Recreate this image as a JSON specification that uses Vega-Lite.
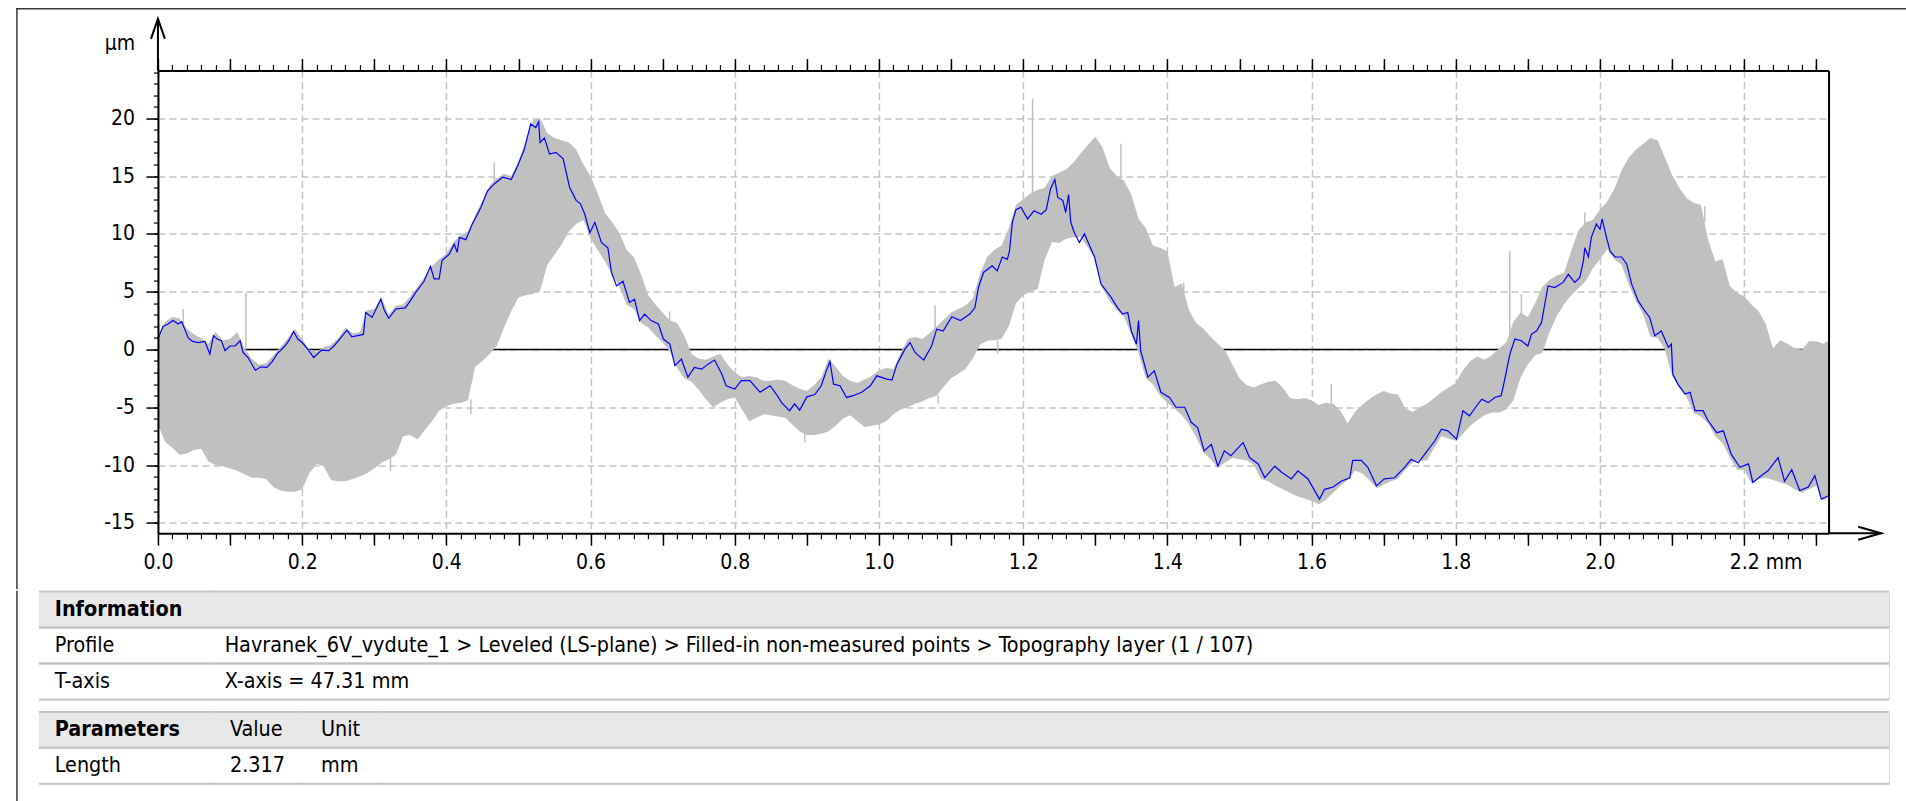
{
  "$schema": "https://vega.github.io/schema/vega-lite/v6.json",
  "background": "white",
  "padding": {"left": 14.95, "top": 7.55, "right": 0, "bottom": 0},
  "config": {
    "font": "'DejaVu Sans Condensed', 'Liberation Sans', sans-serif",
    "axis": {"labelColor": "#000", "tickColor": "#000", "domainColor": "#000", "labelFontSize": 21, "titleFontSize": 21, "titleColor": "#000", "titleFontWeight": "normal"},
    "text": {"fontSize": 21.4, "color": "#000"},
    "view": {"stroke": null}
  },
  "datasets": {
    "band": [
      {"x":0,"hi":1.2,"lo":-6.5},{"x":0.01,"hi":2.4,"lo":-8.0},{"x":0.02,"hi":2.8,"lo":-8.5},{"x":0.03,"hi":2.7,"lo":-9.1},{"x":0.04,"hi":1.8,"lo":-9.0},{"x":0.05,"hi":1.3,"lo":-8.7},{"x":0.06,"hi":1.0,"lo":-8.6},{"x":0.07,"hi":0.5,"lo":-9.7},{"x":0.08,"hi":1.5,"lo":-10.0},{"x":0.09,"hi":0.8,"lo":-10.1},
      {"x":0.1,"hi":0.9,"lo":-10.3},{"x":0.11,"hi":1.5,"lo":-10.5},{"x":0.12,"hi":0.1,"lo":-10.8},{"x":0.13,"hi":-0.8,"lo":-11.1},{"x":0.14,"hi":-1.3,"lo":-11.1},{"x":0.15,"hi":-1.2,"lo":-11.2},{"x":0.16,"hi":-0.5,"lo":-11.9},{"x":0.17,"hi":0.2,"lo":-12.2},{"x":0.18,"hi":1.0,"lo":-12.3},{"x":0.19,"hi":1.8,"lo":-12.3},
      {"x":0.2,"hi":0.9,"lo":-12.1},{"x":0.21,"hi":0.0,"lo":-10.7},{"x":0.22,"hi":-0.2,"lo":-9.9},{"x":0.23,"hi":0.2,"lo":-10.1},{"x":0.24,"hi":0.4,"lo":-11.3},{"x":0.25,"hi":1.0,"lo":-11.4},{"x":0.26,"hi":1.9,"lo":-11.4},{"x":0.27,"hi":1.4,"lo":-11.2},{"x":0.28,"hi":1.5,"lo":-11.0},{"x":0.29,"hi":3.4,"lo":-10.7},
      {"x":0.3,"hi":3.5,"lo":-10.3},{"x":0.31,"hi":4.5,"lo":-9.8},{"x":0.32,"hi":3.0,"lo":-9.5},{"x":0.33,"hi":3.8,"lo":-9.1},{"x":0.34,"hi":3.9,"lo":-7.5},{"x":0.35,"hi":4.6,"lo":-7.4},{"x":0.36,"hi":5.4,"lo":-7.8},{"x":0.37,"hi":6.3,"lo":-7.0},{"x":0.38,"hi":7.2,"lo":-6.2},{"x":0.39,"hi":7.8,"lo":-5.3},
      {"x":0.4,"hi":8.3,"lo":-4.9},{"x":0.41,"hi":9.3,"lo":-4.7},{"x":0.42,"hi":9.9,"lo":-4.6},{"x":0.43,"hi":10.2,"lo":-4.4},{"x":0.44,"hi":11.6,"lo":-1.5},{"x":0.45,"hi":12.9,"lo":-1.0},{"x":0.46,"hi":14.2,"lo":-0.4},{"x":0.47,"hi":14.8,"lo":0.3},{"x":0.48,"hi":15.2,"lo":1.9},{"x":0.49,"hi":15.0,"lo":3.3},
      {"x":0.5,"hi":16.3,"lo":4.5},{"x":0.51,"hi":18.0,"lo":4.7},{"x":0.52,"hi":19.8,"lo":4.8},{"x":0.53,"hi":20.0,"lo":5.1},{"x":0.54,"hi":18.7,"lo":7.3},{"x":0.55,"hi":18.3,"lo":8.2},{"x":0.56,"hi":18.1,"lo":9.1},{"x":0.57,"hi":17.9,"lo":10.2},{"x":0.58,"hi":17.3,"lo":10.85},{"x":0.59,"hi":16.0,"lo":11.2},
      {"x":0.6,"hi":15.0,"lo":9.6},{"x":0.61,"hi":13.5,"lo":8.6},{"x":0.62,"hi":11.8,"lo":7.6},{"x":0.63,"hi":11.0,"lo":6.5},{"x":0.64,"hi":10.1,"lo":5.4},{"x":0.65,"hi":8.6,"lo":3.9},{"x":0.66,"hi":8.0,"lo":3.5},{"x":0.67,"hi":6.5,"lo":2.3},{"x":0.68,"hi":4.7,"lo":1.9},{"x":0.69,"hi":3.9,"lo":1.2},
      {"x":0.7,"hi":3.2,"lo":0.6},{"x":0.71,"hi":2.5,"lo":-0.2},{"x":0.72,"hi":2.3,"lo":-1.6},{"x":0.73,"hi":1.2,"lo":-2.5},{"x":0.74,"hi":-0.4,"lo":-2.8},{"x":0.75,"hi":-0.8,"lo":-3.5},{"x":0.76,"hi":-0.9,"lo":-4.3},{"x":0.77,"hi":-0.6,"lo":-5.0},{"x":0.78,"hi":-0.4,"lo":-4.6},{"x":0.79,"hi":-1.3,"lo":-4.3},
      {"x":0.8,"hi":-2.0,"lo":-4.15},{"x":0.81,"hi":-2.4,"lo":-5.2},{"x":0.82,"hi":-2.3,"lo":-6.2},{"x":0.83,"hi":-2.4,"lo":-5.9},{"x":0.84,"hi":-2.7,"lo":-5.6},{"x":0.85,"hi":-2.7,"lo":-5.7},{"x":0.86,"hi":-2.6,"lo":-5.8},{"x":0.87,"hi":-2.7,"lo":-5.9},{"x":0.88,"hi":-3.1,"lo":-6.5},{"x":0.89,"hi":-3.4,"lo":-7.1},
      {"x":0.9,"hi":-3.6,"lo":-7.4},{"x":0.91,"hi":-3.1,"lo":-7.4},{"x":0.92,"hi":-2.4,"lo":-7.3},{"x":0.93,"hi":-0.8,"lo":-7.1},{"x":0.94,"hi":-1.5,"lo":-6.6},{"x":0.95,"hi":-2.3,"lo":-6.0},{"x":0.96,"hi":-2.7,"lo":-5.7},{"x":0.97,"hi":-2.9,"lo":-6.2},{"x":0.98,"hi":-2.6,"lo":-6.7},{"x":0.99,"hi":-2.3,"lo":-6.6},
      {"x":1.0,"hi":-1.8,"lo":-6.5},{"x":1.01,"hi":-1.6,"lo":-6.2},{"x":1.02,"hi":-1.7,"lo":-5.6},{"x":1.03,"hi":-0.3,"lo":-5.2},{"x":1.04,"hi":0.9,"lo":-5.0},{"x":1.05,"hi":1.1,"lo":-4.7},{"x":1.06,"hi":0.9,"lo":-4.5},{"x":1.07,"hi":1.4,"lo":-4.2},{"x":1.08,"hi":2.0,"lo":-4.0},{"x":1.09,"hi":2.6,"lo":-3.2},
      {"x":1.1,"hi":3.2,"lo":-2.5},{"x":1.11,"hi":3.5,"lo":-2.1},{"x":1.12,"hi":3.8,"lo":-1.7},{"x":1.13,"hi":4.4,"lo":-0.8},{"x":1.14,"hi":6.5,"lo":0.4},{"x":1.15,"hi":8.0,"lo":0.75},{"x":1.16,"hi":8.6,"lo":0.8},{"x":1.17,"hi":9.0,"lo":0.9},{"x":1.18,"hi":10.5,"lo":2.0},{"x":1.19,"hi":12.5,"lo":4.0},
      {"x":1.2,"hi":13.0,"lo":4.7},{"x":1.21,"hi":13.5,"lo":5.0},{"x":1.22,"hi":13.8,"lo":5.2},{"x":1.23,"hi":14.0,"lo":7.8},{"x":1.24,"hi":15.0,"lo":9.3},{"x":1.25,"hi":15.3,"lo":9.2},{"x":1.26,"hi":15.6,"lo":9.6},{"x":1.27,"hi":16.2,"lo":9.7},{"x":1.28,"hi":17.0,"lo":9.7},{"x":1.29,"hi":17.7,"lo":8.8},
      {"x":1.3,"hi":18.4,"lo":7.8},{"x":1.31,"hi":17.5,"lo":5.3},{"x":1.32,"hi":15.7,"lo":4.2},{"x":1.33,"hi":15.0,"lo":3.4},{"x":1.34,"hi":14.6,"lo":2.8},{"x":1.35,"hi":13.4,"lo":1.3},{"x":1.36,"hi":11.3,"lo":-0.3},{"x":1.37,"hi":10.5,"lo":-2.5},{"x":1.38,"hi":9.0,"lo":-3.0},{"x":1.39,"hi":8.8,"lo":-4.0},
      {"x":1.4,"hi":8.5,"lo":-4.6},{"x":1.41,"hi":5.4,"lo":-5.1},{"x":1.42,"hi":5.7,"lo":-5.7},{"x":1.43,"hi":3.4,"lo":-6.5},{"x":1.44,"hi":2.3,"lo":-7.6},{"x":1.45,"hi":1.8,"lo":-8.9},{"x":1.46,"hi":1.1,"lo":-9.5},{"x":1.47,"hi":0.5,"lo":-10.2},{"x":1.48,"hi":-0.1,"lo":-9.8},{"x":1.49,"hi":-1.3,"lo":-9.4},
      {"x":1.5,"hi":-2.5,"lo":-9.5},{"x":1.51,"hi":-3.1,"lo":-9.6},{"x":1.52,"hi":-3.3,"lo":-10.0},{"x":1.53,"hi":-3.0,"lo":-11.2},{"x":1.54,"hi":-2.8,"lo":-11.4},{"x":1.55,"hi":-2.7,"lo":-11.8},{"x":1.56,"hi":-3.3,"lo":-12.1},{"x":1.57,"hi":-4.2,"lo":-12.4},{"x":1.58,"hi":-4.3,"lo":-12.7},{"x":1.59,"hi":-4.2,"lo":-12.9},
      {"x":1.6,"hi":-4.4,"lo":-13.1},{"x":1.61,"hi":-4.8,"lo":-13.4},{"x":1.62,"hi":-4.6,"lo":-13.0},{"x":1.63,"hi":-4.7,"lo":-12.4},{"x":1.64,"hi":-5.3,"lo":-11.8},{"x":1.65,"hi":-6.4,"lo":-11.3},{"x":1.66,"hi":-5.4,"lo":-10.5},{"x":1.67,"hi":-4.8,"lo":-10.7},{"x":1.68,"hi":-4.3,"lo":-11.3},{"x":1.69,"hi":-3.9,"lo":-12.0},
      {"x":1.7,"hi":-3.6,"lo":-11.7},{"x":1.71,"hi":-3.8,"lo":-11.4},{"x":1.72,"hi":-3.9,"lo":-11.2},{"x":1.73,"hi":-5.1,"lo":-10.4},{"x":1.74,"hi":-5.4,"lo":-9.8},{"x":1.75,"hi":-5.0,"lo":-9.6},{"x":1.76,"hi":-4.7,"lo":-9.6},{"x":1.77,"hi":-4.2,"lo":-8.5},{"x":1.78,"hi":-3.7,"lo":-7.5},{"x":1.79,"hi":-3.3,"lo":-7.7},
      {"x":1.8,"hi":-2.9,"lo":-7.9},{"x":1.81,"hi":-1.8,"lo":-7.3},{"x":1.82,"hi":-1.0,"lo":-6.6},{"x":1.83,"hi":-0.6,"lo":-6.1},{"x":1.84,"hi":-0.9,"lo":-5.7},{"x":1.85,"hi":-0.5,"lo":-5.45},{"x":1.86,"hi":0.1,"lo":-5.45},{"x":1.87,"hi":0.6,"lo":-5.2},{"x":1.88,"hi":2.4,"lo":-4.4},{"x":1.89,"hi":3.2,"lo":-2.4},
      {"x":1.9,"hi":2.8,"lo":-1.3},{"x":1.91,"hi":4.0,"lo":-0.5},{"x":1.92,"hi":5.4,"lo":-0.3},{"x":1.93,"hi":6.0,"lo":1.5},{"x":1.94,"hi":6.4,"lo":2.9},{"x":1.95,"hi":6.6,"lo":3.9},{"x":1.96,"hi":8.5,"lo":4.7},{"x":1.97,"hi":10.3,"lo":5.3},{"x":1.98,"hi":11.0,"lo":5.9},{"x":1.99,"hi":11.2,"lo":7.0},
      {"x":2.0,"hi":12.1,"lo":7.8},{"x":2.01,"hi":12.8,"lo":8.7},{"x":2.02,"hi":13.9,"lo":7.8},{"x":2.03,"hi":15.5,"lo":7.3},{"x":2.04,"hi":16.6,"lo":5.6},{"x":2.05,"hi":17.3,"lo":4.2},{"x":2.06,"hi":17.8,"lo":3.0},{"x":2.07,"hi":18.3,"lo":1.1},{"x":2.08,"hi":18.1,"lo":1.0},{"x":2.09,"hi":16.6,"lo":0.0},
      {"x":2.1,"hi":15.1,"lo":-2.3},{"x":2.11,"hi":14.0,"lo":-3.3},{"x":2.12,"hi":13.1,"lo":-4.1},{"x":2.13,"hi":12.7,"lo":-5.5},{"x":2.14,"hi":12.5,"lo":-5.8},{"x":2.15,"hi":9.5,"lo":-6.4},{"x":2.16,"hi":7.6,"lo":-7.5},{"x":2.17,"hi":7.8,"lo":-8.1},{"x":2.18,"hi":5.5,"lo":-9.3},{"x":2.19,"hi":4.9,"lo":-10.4},
      {"x":2.2,"hi":4.6,"lo":-10.4},{"x":2.21,"hi":3.9,"lo":-11.6},{"x":2.22,"hi":3.3,"lo":-11.2},{"x":2.23,"hi":2.2,"lo":-11.1},{"x":2.24,"hi":0.1,"lo":-11.3},{"x":2.25,"hi":0.8,"lo":-11.5},{"x":2.26,"hi":0.5,"lo":-11.7},{"x":2.27,"hi":0.1,"lo":-12.1},{"x":2.28,"hi":0.0,"lo":-12.4},{"x":2.29,"hi":0.7,"lo":-12.1},
      {"x":2.3,"hi":0.7,"lo":-11.8},{"x":2.31,"hi":0.5,"lo":-13.1},{"x":2.317,"hi":0.75,"lo":-12.8}
    ],
    "blue": [
      {"x":0,"y":0.9},{"x":0.007,"y":2.0},{"x":0.014,"y":2.2},{"x":0.021,"y":2.5},{"x":0.028,"y":2.2},{"x":0.033,"y":2.4},{"x":0.042,"y":1.0},{"x":0.048,"y":0.7},{"x":0.056,"y":0.6},{"x":0.065,"y":0.7},
      {"x":0.072,"y":-0.4},{"x":0.077,"y":1.2},{"x":0.082,"y":0.9},{"x":0.088,"y":0.75},{"x":0.093,"y":-0.1},{"x":0.1,"y":0.3},{"x":0.107,"y":0.3},{"x":0.114,"y":0.75},{"x":0.118,"y":-0.25},{"x":0.125,"y":-0.7},
      {"x":0.135,"y":-1.8},{"x":0.143,"y":-1.5},{"x":0.151,"y":-1.55},{"x":0.158,"y":-1.1},{"x":0.165,"y":-0.4},{"x":0.176,"y":0.3},{"x":0.182,"y":0.8},{"x":0.188,"y":1.55},{"x":0.194,"y":0.9},{"x":0.2,"y":0.6},
      {"x":0.208,"y":0.0},{"x":0.216,"y":-0.7},{"x":0.227,"y":-0.06},{"x":0.237,"y":-0.1},{"x":0.244,"y":0.3},{"x":0.251,"y":0.8},{"x":0.262,"y":1.67},{"x":0.269,"y":1.1},{"x":0.277,"y":1.2},{"x":0.285,"y":1.3},
      {"x":0.288,"y":3.2},{"x":0.297,"y":2.77},{"x":0.309,"y":4.35},{"x":0.314,"y":3.4},{"x":0.32,"y":2.7},{"x":0.33,"y":3.5},{"x":0.343,"y":3.6},{"x":0.35,"y":4.2},{"x":0.357,"y":4.9},{"x":0.369,"y":5.9},
      {"x":0.378,"y":7.2},{"x":0.383,"y":6.1},{"x":0.39,"y":6.1},{"x":0.394,"y":7.7},{"x":0.404,"y":8.25},{"x":0.411,"y":9.1},{"x":0.415,"y":8.4},{"x":0.418,"y":9.7},{"x":0.427,"y":9.5},{"x":0.436,"y":10.85},
      {"x":0.448,"y":12.3},{"x":0.457,"y":13.7},{"x":0.466,"y":14.3},{"x":0.478,"y":14.9},{"x":0.49,"y":14.7},{"x":0.499,"y":15.9},{"x":0.508,"y":17.3},{"x":0.517,"y":19.5},{"x":0.524,"y":19.2},{"x":0.528,"y":19.7},
      {"x":0.53,"y":17.9},{"x":0.536,"y":18.3},{"x":0.543,"y":16.9},{"x":0.552,"y":17.05},{"x":0.562,"y":16.5},{"x":0.571,"y":14.0},{"x":0.58,"y":12.9},{"x":0.586,"y":12.6},{"x":0.592,"y":11.7},{"x":0.599,"y":10.1},
      {"x":0.606,"y":11.0},{"x":0.615,"y":9.26},{"x":0.624,"y":8.8},{"x":0.629,"y":6.66},{"x":0.636,"y":5.5},{"x":0.645,"y":5.9},{"x":0.654,"y":4.07},{"x":0.661,"y":4.35},{"x":0.668,"y":2.5},{"x":0.675,"y":3.06},
      {"x":0.684,"y":2.5},{"x":0.694,"y":2.2},{"x":0.701,"y":0.9},{"x":0.71,"y":0.46},{"x":0.717,"y":-1.4},{"x":0.726,"y":-0.84},{"x":0.735,"y":-2.4},{"x":0.744,"y":-1.56},{"x":0.754,"y":-1.7},{"x":0.763,"y":-1.27},
      {"x":0.772,"y":-0.92},{"x":0.782,"y":-2.13},{"x":0.788,"y":-3.14},{"x":0.8,"y":-3.43},{"x":0.809,"y":-2.7},{"x":0.821,"y":-2.7},{"x":0.835,"y":-3.7},{"x":0.849,"y":-3.14},{"x":0.858,"y":-3.9},{"x":0.865,"y":-4.6},
      {"x":0.876,"y":-5.3},{"x":0.883,"y":-4.7},{"x":0.89,"y":-5.25},{"x":0.9,"y":-4.1},{"x":0.911,"y":-3.9},{"x":0.92,"y":-3.14},{"x":0.927,"y":-1.85},{"x":0.932,"y":-1.04},{"x":0.937,"y":-3.0},{"x":0.946,"y":-3.14},
      {"x":0.955,"y":-4.15},{"x":0.964,"y":-4.0},{"x":0.976,"y":-3.7},{"x":0.988,"y":-3.14},{"x":0.997,"y":-2.28},{"x":1.011,"y":-2.57},{"x":1.018,"y":-2.65},{"x":1.025,"y":-1.27},{"x":1.036,"y":0.03},{"x":1.043,"y":0.6},
      {"x":1.05,"y":-0.26},{"x":1.062,"y":-0.92},{"x":1.073,"y":0.3},{"x":1.08,"y":1.76},{"x":1.089,"y":1.6},{"x":1.101,"y":2.83},{"x":1.113,"y":2.5},{"x":1.126,"y":3.06},{"x":1.133,"y":3.6},{"x":1.138,"y":5.36},
      {"x":1.145,"y":6.66},{"x":1.157,"y":7.24},{"x":1.164,"y":6.8},{"x":1.171,"y":8.0},{"x":1.178,"y":7.8},{"x":1.181,"y":8.5},{"x":1.185,"y":11.0},{"x":1.19,"y":12.1},{"x":1.197,"y":12.3},{"x":1.206,"y":11.3},
      {"x":1.215,"y":12.0},{"x":1.225,"y":11.7},{"x":1.232,"y":12.1},{"x":1.238,"y":13.9},{"x":1.244,"y":14.7},{"x":1.248,"y":13.15},{"x":1.255,"y":12.9},{"x":1.259,"y":11.85},{"x":1.263,"y":13.4},{"x":1.266,"y":11.0},
      {"x":1.271,"y":10.1},{"x":1.278,"y":9.26},{"x":1.285,"y":10.0},{"x":1.292,"y":9.0},{"x":1.299,"y":8.0},{"x":1.308,"y":5.65},{"x":1.315,"y":5.1},{"x":1.322,"y":4.5},{"x":1.331,"y":3.6},{"x":1.338,"y":3.06},
      {"x":1.345,"y":3.2},{"x":1.35,"y":1.6},{"x":1.357,"y":0.46},{"x":1.36,"y":2.5},{"x":1.363,"y":-0.1},{"x":1.373,"y":-2.4},{"x":1.382,"y":-1.85},{"x":1.391,"y":-3.7},{"x":1.403,"y":-4.15},{"x":1.412,"y":-5.0},
      {"x":1.424,"y":-5.0},{"x":1.433,"y":-6.3},{"x":1.442,"y":-6.75},{"x":1.451,"y":-8.77},{"x":1.461,"y":-8.2},{"x":1.47,"y":-10.1},{"x":1.479,"y":-8.77},{"x":1.488,"y":-9.2},{"x":1.505,"y":-8.05},{"x":1.514,"y":-9.35},
      {"x":1.526,"y":-9.9},{"x":1.535,"y":-11.1},{"x":1.549,"y":-10.1},{"x":1.558,"y":-10.6},{"x":1.572,"y":-11.2},{"x":1.581,"y":-10.5},{"x":1.595,"y":-11.2},{"x":1.611,"y":-12.95},{"x":1.618,"y":-12.1},{"x":1.63,"y":-11.9},
      {"x":1.641,"y":-11.4},{"x":1.653,"y":-11.1},{"x":1.657,"y":-9.6},{"x":1.669,"y":-9.6},{"x":1.678,"y":-10.2},{"x":1.69,"y":-11.8},{"x":1.701,"y":-11.2},{"x":1.715,"y":-11.1},{"x":1.729,"y":-10.2},{"x":1.738,"y":-9.5},
      {"x":1.748,"y":-9.8},{"x":1.757,"y":-9.06},{"x":1.771,"y":-7.9},{"x":1.78,"y":-6.9},{"x":1.789,"y":-7.04},{"x":1.801,"y":-7.76},{"x":1.81,"y":-5.3},{"x":1.819,"y":-5.74},{"x":1.829,"y":-4.87},{"x":1.836,"y":-4.3},
      {"x":1.845,"y":-4.6},{"x":1.854,"y":-4.15},{"x":1.863,"y":-4.0},{"x":1.868,"y":-2.57},{"x":1.875,"y":-0.4},{"x":1.882,"y":0.9},{"x":1.891,"y":0.75},{"x":1.9,"y":0.3},{"x":1.905,"y":1.33},{"x":1.912,"y":1.6},
      {"x":1.919,"y":2.34},{"x":1.923,"y":3.78},{"x":1.928,"y":5.5},{"x":1.937,"y":5.36},{"x":1.949,"y":5.8},{"x":1.956,"y":6.5},{"x":1.965,"y":5.8},{"x":1.972,"y":6.23},{"x":1.977,"y":7.67},{"x":1.979,"y":8.8},
      {"x":1.984,"y":8.0},{"x":1.988,"y":9.7},{"x":1.995,"y":10.85},{"x":2.0,"y":10.4},{"x":2.003,"y":11.3},{"x":2.009,"y":9.7},{"x":2.014,"y":8.5},{"x":2.021,"y":8.0},{"x":2.03,"y":8.0},{"x":2.037,"y":7.4},
      {"x":2.044,"y":5.65},{"x":2.053,"y":4.2},{"x":2.062,"y":3.35},{"x":2.069,"y":2.77},{"x":2.076,"y":1.18},{"x":2.085,"y":1.6},{"x":2.095,"y":0.17},{"x":2.099,"y":0.46},{"x":2.101,"y":-2.13},{"x":2.108,"y":-3.0},
      {"x":2.118,"y":-3.86},{"x":2.125,"y":-3.7},{"x":2.132,"y":-5.3},{"x":2.143,"y":-5.3},{"x":2.15,"y":-6.17},{"x":2.162,"y":-7.2},{"x":2.171,"y":-7.04},{"x":2.182,"y":-9.06},{"x":2.194,"y":-10.2},{"x":2.206,"y":-9.9},
      {"x":2.212,"y":-11.5},{"x":2.224,"y":-10.9},{"x":2.233,"y":-10.5},{"x":2.247,"y":-9.35},{"x":2.256,"y":-11.4},{"x":2.266,"y":-10.4},{"x":2.277,"y":-12.2},{"x":2.289,"y":-11.9},{"x":2.298,"y":-10.9},{"x":2.307,"y":-12.95},
      {"x":2.317,"y":-12.66}
    ],
    "spikes": [
      {"x":0.035,"y":1.5,"y2":3.5},{"x":0.122,"y":0.0,"y2":4.9},{"x":0.3225,"y":-9.4,"y2":-10.5},{"x":0.434,"y":-4.3,"y2":-5.6},{"x":0.4664,"y":14.4,"y2":16.2},{"x":0.7097,"y":2.4,"y2":3.3},
      {"x":0.897,"y":-7.3,"y2":-8.05},{"x":1.0778,"y":1.8,"y2":3.8},{"x":1.082,"y":-4.0,"y2":-4.7},{"x":1.1645,"y":0.8,"y2":-0.4},{"x":1.213,"y":13.5,"y2":21.7},{"x":1.3356,"y":14.8,"y2":17.8},
      {"x":1.4227,"y":5.0,"y2":5.8},{"x":1.6273,"y":-4.7,"y2":-3.0},{"x":1.8749,"y":0.5,"y2":8.5},{"x":1.891,"y":3.0,"y2":4.8},{"x":1.9789,"y":10.8,"y2":11.85},{"x":2.1454,"y":11.0,"y2":12.4}
    ]
  },
  "spacing": 0,
  "vconcat": [
    {
      "bounds": "flush",
      "spacing": 0,
      "hconcat": [
        {"width": 141, "height": 462.7, "data": {"values": []}, "mark": "point"},
        {
          "width": 1670.6,
          "height": 462.7,
          "resolve": {"axis": {"x": "independent", "y": "independent"}},
          "layer": [
            {
              "data": {"values": [{"x": 0, "x2": 2.317, "y": 0}]},
              "mark": {"type": "rule", "color": "#000", "strokeWidth": 1.5},
              "encoding": {
                "x": {"field": "x", "type": "quantitative", "scale": {"domain": [0, 2.317], "nice": false, "zero": false},
                  "axis": {"orient": "bottom", "values": [0,0.1,0.2,0.3,0.4,0.5,0.6,0.7,0.8,0.9,1,1.1,1.2,1.3,1.4,1.5,1.6,1.7,1.8,1.9,2,2.1,2.2,2.3],
                    "tickSize": 12, "tickWidth": 1.5, "domain": false, "grid": true, "gridColor": "#c4c4c4", "gridDash": [7, 4], "gridWidth": 1.5,
                    "gridOpacity": {"condition": {"test": "round(datum.value*10) % 2 == 1", "value": 0}, "value": 1},
                    "labelExpr": "round(datum.value*10) % 2 == 1 ? '' : (abs(datum.value - 2.2) < 0.001 ? '2.2 mm' : format(datum.value, '.1f'))",
                    "labelAlign": {"condition": {"test": "abs(datum.value - 2.2) < 0.001", "value": "left"}, "value": "center"},
                    "labelOffset": {"condition": {"test": "abs(datum.value - 2.2) < 0.001", "value": -15}, "value": 0},
                    "labelPadding": 6, "labelFlush": false, "labelOverlap": false, "title": null, "zindex": 0}},
                "x2": {"field": "x2"},
                "y": {"field": "y", "type": "quantitative", "scale": {"domain": [-15.9, 24.13], "nice": false, "zero": false},
                  "axis": {"orient": "left", "values": [-15,-10,-5,0,5,10,15,20], "tickSize": 12, "tickWidth": 1.5, "domain": false,
                    "grid": true, "gridColor": "#c4c4c4", "gridDash": [7, 4], "gridWidth": 1.5,
                    "labelExpr": "'' + datum.value", "labelPadding": 11.4, "labelFlush": false, "labelOverlap": false,
                    "title": "µm", "titleAngle": 0, "titleX": -23.4, "titleY": -27.3, "titleAlign": "right", "titleBaseline": "middle", "zindex": 0}}
              }
            },
            {
              "data": {"name": "band"},
              "mark": {"type": "area", "color": "#c0c0c0", "opacity": 1},
              "encoding": {
                "x": {"field": "x", "type": "quantitative", "scale": {"domain": [0, 2.317], "nice": false, "zero": false},
                  "axis": {"orient": "bottom", "tickCount": 116, "tickSize": 5.5, "tickWidth": 1.2, "labels": false, "grid": false, "domain": true, "domainWidth": 2, "title": null, "zindex": 1}},
                "y": {"field": "hi", "type": "quantitative", "scale": {"domain": [-15.9, 24.13], "nice": false, "zero": false},
                  "axis": {"orient": "left", "tickCount": 40, "tickSize": 4.5, "tickWidth": 1.2, "labels": false, "grid": false, "domain": true, "domainWidth": 2, "title": null, "zindex": 1}},
                "y2": {"field": "lo"}
              }
            },
            {
              "data": {"name": "spikes"},
              "mark": {"type": "rule", "color": "#c0c0c0", "strokeWidth": 1.5},
              "encoding": {
                "x": {"field": "x", "type": "quantitative", "scale": {"domain": [0, 2.317], "nice": false, "zero": false},
                  "axis": {"orient": "top", "tickCount": 23, "tickSize": 12, "tickWidth": 1.5, "labels": false, "grid": false, "domain": false, "title": null, "zindex": 1}},
                "y": {"field": "y", "type": "quantitative", "scale": {"domain": [-15.9, 24.13], "nice": false, "zero": false},
                  "axis": {"orient": "right", "ticks": false, "labels": false, "grid": false, "domain": true, "domainWidth": 2, "title": null, "zindex": 1}},
                "y2": {"field": "y2"}
              }
            },
            {
              "data": {"name": "blue"},
              "mark": {"type": "line", "color": "#0000ff", "strokeWidth": 1.2},
              "encoding": {
                "x": {"field": "x", "type": "quantitative", "scale": {"domain": [0, 2.317], "nice": false, "zero": false},
                  "axis": {"orient": "top", "tickCount": 116, "tickSize": 6, "tickWidth": 1.2, "labels": false, "grid": false, "domain": true, "domainWidth": 2, "title": null, "zindex": 1}},
                "y": {"field": "y", "type": "quantitative", "scale": {"domain": [-15.9, 24.13], "nice": false, "zero": false}, "axis": null}
              }
            },
            {
              "data": {"values": [{"x": -0.1956, "x2": 2.424, "y": 29.47, "y2": 29.47}, {"x": -0.1956, "x2": -0.1956, "y": 29.47, "y2": -20.66}]},
              "mark": {"type": "rule", "color": "#3a3a3a", "strokeWidth": 1.5, "strokeCap": "square"},
              "encoding": {
                "x": {"field": "x", "type": "quantitative", "scale": {"domain": [0, 2.317], "nice": false, "zero": false}, "axis": null},
                "x2": {"field": "x2"},
                "y": {"field": "y", "type": "quantitative", "scale": {"domain": [-15.9, 24.13], "nice": false, "zero": false}, "axis": null},
                "y2": {"field": "y2"}
              }
            },
            {
              "data": {"values": [{"x": 0, "x2": 0, "y": 24.13, "y2": 28.6}, {"x": 2.317, "x2": 2.39, "y": -15.9, "y2": -15.9}]},
              "mark": {"type": "rule", "color": "#000", "strokeWidth": 2},
              "encoding": {
                "x": {"field": "x", "type": "quantitative", "scale": {"domain": [0, 2.317], "nice": false, "zero": false}, "axis": null},
                "x2": {"field": "x2"},
                "y": {"field": "y", "type": "quantitative", "scale": {"domain": [-15.9, 24.13], "nice": false, "zero": false}, "axis": null},
                "y2": {"field": "y2"}
              }
            },
            {
              "data": {"values": [{"x": 0, "y": 28.6}]},
              "mark": {"type": "point", "shape": "M-0.7,2L0,0L0.7,2", "size": 400, "filled": false, "stroke": "#000", "strokeWidth": 2, "opacity": 1},
              "encoding": {
                "x": {"field": "x", "type": "quantitative", "scale": {"domain": [0, 2.317], "nice": false, "zero": false}, "axis": null},
                "y": {"field": "y", "type": "quantitative", "scale": {"domain": [-15.9, 24.13], "nice": false, "zero": false}, "axis": null}
              }
            },
            {
              "data": {"values": [{"x": 2.39, "y": -15.9}]},
              "mark": {"type": "point", "shape": "M-2.3,-0.65L0,0L-2.3,0.65", "size": 400, "filled": false, "stroke": "#000", "strokeWidth": 2, "opacity": 1},
              "encoding": {
                "x": {"field": "x", "type": "quantitative", "scale": {"domain": [0, 2.317], "nice": false, "zero": false}, "axis": null},
                "y": {"field": "y", "type": "quantitative", "scale": {"domain": [-15.9, 24.13], "nice": false, "zero": false}, "axis": null}
              }
            }
          ]
        }
      ]
    },
    {
      "bounds": "flush",
      "spacing": 0,
      "hconcat": [
        {
          "width": 22, "height": 209,
          "data": {"values": [{"edge": "left"}]},
          "mark": {"type": "rule", "color": "#3a3a3a", "strokeWidth": 1.5, "strokeCap": "square"},
          "encoding": {
            "x": {"datum": 0, "type": "quantitative", "scale": {"domain": [0, 1]}, "axis": null},
            "y": {"datum": 0, "type": "quantitative", "scale": {"domain": [0, 1]}, "axis": null},
            "y2": {"datum": 1}
          }
        },
        {
          "spacing": 8.5,
          "vconcat": [
            {
              "hconcat": [
                {
                  "width": 171, "height": 108,
                  "view": {"stroke": "#d6d6d6", "strokeWidth": 1},
                  "data": {"values": [{"r": 0, "k": "head", "t": "Information"}, {"r": 1, "k": "body", "t": "Profile"}, {"r": 2, "k": "body", "t": "T-axis"}]},
                  "layer": [
                    {"mark": {"type": "rect"}, "encoding": {
                      "y": {"field": "r", "type": "ordinal", "scale": {"paddingInner": 0, "paddingOuter": 0}, "axis": null},
                      "color": {"field": "k", "type": "nominal", "scale": {"domain": ["head", "body"], "range": ["#e8e8e8", "#ffffff"]}, "legend": null}}},
                    {"mark": {"type": "rule", "color": "#c4c4c4", "strokeWidth": 2}, "encoding": {"y": {"field": "r", "type": "ordinal", "bandPosition": 0, "axis": null}}},
                    {"mark": {"type": "rule", "color": "#c4c4c4", "strokeWidth": 2}, "encoding": {"y": {"field": "r", "type": "ordinal", "bandPosition": 1, "axis": null}}},
                    {"transform": [{"filter": "datum.k == 'head'"}], "mark": {"type": "text", "align": "left", "dx": 15.8, "fontWeight": "bold"},
                      "encoding": {"y": {"field": "r", "type": "ordinal", "axis": null}, "x": {"datum": 0, "type": "quantitative", "scale": {"domain": [0, 1]}, "axis": null}, "text": {"field": "t"}}},
                    {"transform": [{"filter": "datum.k == 'body'"}], "mark": {"type": "text", "align": "left", "dx": 15.8},
                      "encoding": {"y": {"field": "r", "type": "ordinal", "axis": null}, "x": {"datum": 0, "type": "quantitative", "scale": {"domain": [0, 1]}, "axis": null}, "text": {"field": "t"}}}
                  ]
                },
                {
                  "width": 1679, "height": 108,
                  "view": {"stroke": "#d6d6d6", "strokeWidth": 1},
                  "data": {"values": [{"r": 0, "k": "head", "t": ""}, {"r": 1, "k": "body", "t": "Havranek_6V_vydute_1 > Leveled (LS-plane) > Filled-in non-measured points > Topography layer (1 / 107)"}, {"r": 2, "k": "body", "t": "X-axis = 47.31 mm"}]},
                  "layer": [
                    {"mark": {"type": "rect"}, "encoding": {
                      "y": {"field": "r", "type": "ordinal", "scale": {"paddingInner": 0, "paddingOuter": 0}, "axis": null},
                      "color": {"field": "k", "type": "nominal", "scale": {"domain": ["head", "body"], "range": ["#e8e8e8", "#ffffff"]}, "legend": null}}},
                    {"mark": {"type": "rule", "color": "#c4c4c4", "strokeWidth": 2}, "encoding": {"y": {"field": "r", "type": "ordinal", "bandPosition": 0, "axis": null}}},
                    {"mark": {"type": "rule", "color": "#c4c4c4", "strokeWidth": 2}, "encoding": {"y": {"field": "r", "type": "ordinal", "bandPosition": 1, "axis": null}}},
                    {"mark": {"type": "text", "align": "left", "dx": 14.7},
                      "encoding": {"y": {"field": "r", "type": "ordinal", "axis": null}, "x": {"datum": 0, "type": "quantitative", "scale": {"domain": [0, 1]}, "axis": null}, "text": {"field": "t"}}}
                  ]
                }
              ],
              "spacing": 0,
              "bounds": "flush"
            },
            {
              "hconcat": [
                {
                  "width": 171, "height": 71.6,
                  "view": {"stroke": "#d6d6d6", "strokeWidth": 1},
                  "data": {"values": [{"r": 0, "k": "head", "t": "Parameters"}, {"r": 1, "k": "body", "t": "Length"}]},
                  "layer": [
                    {"mark": {"type": "rect"}, "encoding": {
                      "y": {"field": "r", "type": "ordinal", "scale": {"paddingInner": 0, "paddingOuter": 0}, "axis": null},
                      "color": {"field": "k", "type": "nominal", "scale": {"domain": ["head", "body"], "range": ["#e8e8e8", "#ffffff"]}, "legend": null}}},
                    {"mark": {"type": "rule", "color": "#c4c4c4", "strokeWidth": 2}, "encoding": {"y": {"field": "r", "type": "ordinal", "bandPosition": 0, "axis": null}}},
                    {"mark": {"type": "rule", "color": "#c4c4c4", "strokeWidth": 2}, "encoding": {"y": {"field": "r", "type": "ordinal", "bandPosition": 1, "axis": null}}},
                    {"transform": [{"filter": "datum.k == 'head'"}], "mark": {"type": "text", "align": "left", "dx": 15.8, "fontWeight": "bold"},
                      "encoding": {"y": {"field": "r", "type": "ordinal", "axis": null}, "x": {"datum": 0, "type": "quantitative", "scale": {"domain": [0, 1]}, "axis": null}, "text": {"field": "t"}}},
                    {"transform": [{"filter": "datum.k == 'body'"}], "mark": {"type": "text", "align": "left", "dx": 15.8},
                      "encoding": {"y": {"field": "r", "type": "ordinal", "axis": null}, "x": {"datum": 0, "type": "quantitative", "scale": {"domain": [0, 1]}, "axis": null}, "text": {"field": "t"}}}
                  ]
                },
                {
                  "width": 89, "height": 71.6,
                  "view": {"stroke": "#d6d6d6", "strokeWidth": 1},
                  "data": {"values": [{"r": 0, "k": "head", "t": "Value"}, {"r": 1, "k": "body", "t": "2.317"}]},
                  "layer": [
                    {"mark": {"type": "rect"}, "encoding": {
                      "y": {"field": "r", "type": "ordinal", "scale": {"paddingInner": 0, "paddingOuter": 0}, "axis": null},
                      "color": {"field": "k", "type": "nominal", "scale": {"domain": ["head", "body"], "range": ["#e8e8e8", "#ffffff"]}, "legend": null}}},
                    {"mark": {"type": "rule", "color": "#c4c4c4", "strokeWidth": 2}, "encoding": {"y": {"field": "r", "type": "ordinal", "bandPosition": 0, "axis": null}}},
                    {"mark": {"type": "rule", "color": "#c4c4c4", "strokeWidth": 2}, "encoding": {"y": {"field": "r", "type": "ordinal", "bandPosition": 1, "axis": null}}},
                    {"mark": {"type": "text", "align": "left", "dx": 20},
                      "encoding": {"y": {"field": "r", "type": "ordinal", "axis": null}, "x": {"datum": 0, "type": "quantitative", "scale": {"domain": [0, 1]}, "axis": null}, "text": {"field": "t"}}}
                  ]
                },
                {
                  "width": 83, "height": 71.6,
                  "view": {"stroke": "#d6d6d6", "strokeWidth": 1},
                  "data": {"values": [{"r": 0, "k": "head", "t": "Unit"}, {"r": 1, "k": "body", "t": "mm"}]},
                  "layer": [
                    {"mark": {"type": "rect"}, "encoding": {
                      "y": {"field": "r", "type": "ordinal", "scale": {"paddingInner": 0, "paddingOuter": 0}, "axis": null},
                      "color": {"field": "k", "type": "nominal", "scale": {"domain": ["head", "body"], "range": ["#e8e8e8", "#ffffff"]}, "legend": null}}},
                    {"mark": {"type": "rule", "color": "#c4c4c4", "strokeWidth": 2}, "encoding": {"y": {"field": "r", "type": "ordinal", "bandPosition": 0, "axis": null}}},
                    {"mark": {"type": "rule", "color": "#c4c4c4", "strokeWidth": 2}, "encoding": {"y": {"field": "r", "type": "ordinal", "bandPosition": 1, "axis": null}}},
                    {"mark": {"type": "text", "align": "left", "dx": 22},
                      "encoding": {"y": {"field": "r", "type": "ordinal", "axis": null}, "x": {"datum": 0, "type": "quantitative", "scale": {"domain": [0, 1]}, "axis": null}, "text": {"field": "t"}}}
                  ]
                },
                {
                  "width": 1507, "height": 71.6,
                  "view": {"stroke": "#d6d6d6", "strokeWidth": 1},
                  "data": {"values": [{"r": 0, "k": "head"}, {"r": 1, "k": "body"}]},
                  "layer": [
                    {"mark": {"type": "rect"}, "encoding": {
                      "y": {"field": "r", "type": "ordinal", "scale": {"paddingInner": 0, "paddingOuter": 0}, "axis": null},
                      "color": {"field": "k", "type": "nominal", "scale": {"domain": ["head", "body"], "range": ["#e8e8e8", "#ffffff"]}, "legend": null}}},
                    {"mark": {"type": "rule", "color": "#c4c4c4", "strokeWidth": 2}, "encoding": {"y": {"field": "r", "type": "ordinal", "bandPosition": 0, "axis": null}}},
                    {"mark": {"type": "rule", "color": "#c4c4c4", "strokeWidth": 2}, "encoding": {"y": {"field": "r", "type": "ordinal", "bandPosition": 1, "axis": null}}}
                  ]
                }
              ],
              "spacing": 0,
              "bounds": "flush"
            }
          ]
        }
      ]
    }
  ]
}
